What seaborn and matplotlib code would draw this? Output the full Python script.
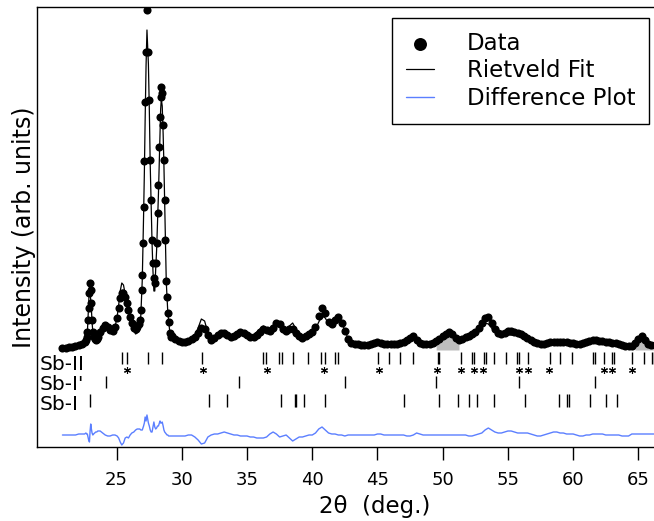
import numpy as np
import matplotlib
matplotlib.use('Agg')
import matplotlib.pyplot as plt
import seaborn as sns

# 2-theta scan positions (deg), observed counts and obs - calc difference (arb. units)
two_theta = [
    20.85, 21.10, 21.35, 21.60, 21.85, 22.10, 22.35, 22.55,
    22.65, 22.71, 22.76, 22.81, 22.86, 22.92, 22.97, 23.02, 23.07, 23.12,
    23.18, 23.24, 23.32, 23.40, 23.48,
    23.56, 23.74, 23.94, 24.13, 24.32, 24.50, 24.70, 24.88,
    25.04, 25.16, 25.28, 25.40, 25.53, 25.66, 25.79, 25.91, 26.04, 26.17,
    26.32, 26.46, 26.58,
    26.70, 26.78, 26.86, 26.92, 26.97, 27.02, 27.07, 27.13, 27.19, 27.26,
    27.33, 27.44, 27.51, 27.58, 27.65, 27.72, 27.79, 27.86, 27.93, 28.00,
    28.07, 28.14, 28.21, 28.28, 28.33, 28.38, 28.43, 28.50, 28.57, 28.63,
    28.69, 28.75, 28.81, 28.87, 28.93, 28.99, 29.08, 29.17,
    29.25, 29.50, 29.75, 30.00, 30.25, 30.50, 30.75, 31.00, 31.25, 31.50,
    31.75, 32.00, 32.25, 32.50, 32.75, 33.00, 33.25, 33.50, 33.75, 34.00,
    34.25, 34.50, 34.75, 35.00, 35.25, 35.50, 35.75, 36.00, 36.25, 36.50,
    36.75, 37.00, 37.25, 37.50, 37.75, 38.00, 38.25, 38.50, 38.75, 39.00,
    39.25, 39.50, 39.75, 40.00, 40.25, 40.50, 40.75, 41.00, 41.25, 41.50,
    41.75, 42.00, 42.25, 42.50, 42.75, 43.00, 43.25, 43.50, 43.75, 44.00,
    44.25, 44.50, 44.75, 45.00, 45.25, 45.50, 45.75, 46.00, 46.25, 46.50,
    46.75, 47.00, 47.25, 47.50, 47.75, 48.00, 48.25, 48.50, 48.75, 49.00,
    49.25, 49.50, 49.75, 50.00, 50.25, 50.50, 50.75, 51.00, 51.25, 51.50,
    51.75, 52.00, 52.25, 52.50, 52.75, 53.00, 53.25, 53.50, 53.75, 54.00,
    54.25, 54.50, 54.75, 55.00, 55.25, 55.50, 55.75, 56.00, 56.25, 56.50,
    56.75, 57.00, 57.25, 57.50, 57.75, 58.00, 58.25, 58.50, 58.75, 59.00,
    59.25, 59.50, 59.75, 60.00, 60.25, 60.50, 60.75, 61.00, 61.25, 61.50,
    61.75, 62.00, 62.25, 62.50, 62.75, 63.00, 63.25, 63.50, 63.75, 64.00,
    64.25, 64.50, 64.75, 65.00, 65.25, 65.50, 65.75, 66.00, 66.25,
]
obs = [
    103, 103, 104, 104, 105, 106, 107, 109,
    111, 114, 119, 131, 143, 158, 168, 161, 148, 131,
    119, 114, 112, 111, 112,
    114, 119, 123, 126, 124, 121, 120, 124,
    133, 143, 153, 158, 158, 154, 148, 141, 134, 128,
    123, 122, 124,
    127, 131, 141, 161, 176, 208, 244, 290, 349, 399,
    441, 399, 351, 291, 251, 211, 188, 173, 168, 188,
    208, 238, 266, 304, 334, 354, 364, 358, 326, 291,
    251, 211, 170, 154, 138, 129, 118, 114,
    115, 112, 110, 109, 109, 110, 112, 114, 118, 123,
    122, 116, 111, 113, 116, 118, 118, 116, 114, 115,
    117, 119, 118, 116, 114, 114, 116, 119, 122, 121,
    120, 123, 128, 127, 122, 120, 122, 122, 118, 115,
    113, 115, 117, 119, 124, 135, 143, 138, 129, 127,
    131, 134, 128, 120, 112, 108, 107, 107, 106, 106,
    106, 107, 108, 109, 108, 107, 107, 107, 107, 107,
    108, 109, 111, 113, 115, 111, 108, 107, 107, 107,
    108, 110, 112, 115, 117, 119, 117, 113, 111, 112,
    114, 115, 117, 119, 123, 128, 133, 134, 128, 122,
    118, 117, 118, 120, 120, 119, 118, 117, 115, 113,
    111, 109, 108, 107, 107, 108, 109, 109, 109, 109,
    109, 109, 108, 108, 107, 107, 108, 109, 110, 111,
    111, 110, 110, 109, 109, 108, 108, 107, 106, 105,
    105, 105, 108, 112, 115, 111, 107, 106, 106,
]
diff = [
    0, 0, 0, 0, 0, 1, 1, 1,
    2, 1, 1, -2, -5, -7, 4, 11, 6, 2,
    0, 1, 2, 3, 3,
    4, 4, 2, 0, -1, -1, 0, 0,
    -1, -3, -7, -10, -8, -3, -2, -3, 0, 2,
    3, 5, 6,
    6, 6, 5, 5, 5, 7, 9, 12, 18, 14,
    20, 12, 9, 5, 3, 3, 8, 13, 8, 6,
    7, 9, 9, 12, 14, 12, 12, 13, 9, 5,
    3, 2, 1, 0, 0, -1, -1, -1,
    -1, -1, -1, -1, -1, 0, 0, -2, -5, -9,
    -8, -2, 0, 1, 1, 2, 3, 2, 1, 0,
    0, -1, -1, -1, -2, -2, -3, -3, -3, -2,
    1, 3, 1, -2, -1, 0, -3, -6, -4, -2,
    -2, -1, 0, 0, 2, 6, 8, 5, 2, 1,
    1, 0, 0, -1, 0, 0, 0, 0, 0, 0,
    0, 0, 0, 1, 1, 0, 0, 0, 0, 0,
    0, 0, -1, -1, 0, 2, 1, 0, 0, 0,
    0, 0, 0, 0, 0, 0, 0, 0, 0, 0,
    0, -1, -1, 0, 1, 2, 5, 7, 5, 3,
    2, 2, 3, 4, 4, 3, 2, 2, 2, 2,
    1, 0, -1, -1, 0, 1, 2, 3, 3, 2,
    2, 1, 1, 1, 0, -1, -1, 0, 0, 1,
    1, 1, 1, 0, 0, 0, 0, 0, -1, -1,
    -1, 1, 1, 1, 1, 1, 1, 1, 1,
]

# reflection positions (deg)
sb2_ticks = [25.44, 25.82, 27.40, 28.50, 31.58, 36.24, 36.45, 37.48, 37.69, 38.54,
             39.71, 40.70, 40.95, 41.76, 41.98, 45.06, 45.85, 46.72, 47.72, 49.62,
             49.74, 51.40, 52.25, 52.42, 53.18, 53.31, 53.97, 54.86, 55.66, 55.84,
             56.56, 58.22, 58.98, 59.92, 61.50, 61.70, 62.34, 62.98, 63.11, 64.53,
             65.41, 66.05, 66.17]
asterisks = [25.80, 31.60, 36.50, 40.90, 45.08, 49.56, 51.40, 52.37, 53.09, 55.82,
             56.51, 58.18, 62.34, 62.98, 64.52]
sb1p_ticks = [24.20, 34.40, 42.50, 49.51, 55.82, 61.70]
sb1_ticks = [23.00, 32.08, 33.46, 37.60, 38.65, 38.78, 39.36, 41.00, 47.00, 49.74,
             51.17, 52.02, 52.60, 53.90, 56.28, 58.94, 59.53, 59.71, 61.27, 62.55,
             63.37]
phase_names = ["Sb-II", "Sb-I'", "Sb-I"]

# unfitted (shaded) regions
shaded = [(49.45, 51.35), (64.6, 66.25)]

tt = np.array(two_theta)
obs = np.array(obs, dtype=float)
diff = np.array(diff, dtype=float)
calc = obs - diff

sns.set_style('ticks')
plt.rcParams['font.family'] = ['DejaVu Sans']
plt.rcParams['text.color'] = 'black'
plt.rcParams['axes.labelcolor'] = 'black'
plt.rcParams['xtick.color'] = 'black'

fig = plt.figure(figsize=(6.54, 5.21), dpi=100)
ax = fig.add_axes([37 / 654, 1 - 447 / 521, 617 / 654, 440 / 521])

for lo, hi in shaded:
    mask = (tt >= lo) & (tt <= hi)
    ax.fill_between(tt, 101, obs, where=mask, color='#bdbdbd', lw=0, zorder=1)

sns.scatterplot(x=tt, y=obs, ax=ax, color='black', s=34, linewidth=0,
                label='Data', zorder=3)
sns.lineplot(x=tt, y=calc, ax=ax, color='black', lw=0.9, sort=False,
             estimator=None, label='Rietveld Fit', zorder=4)
sns.lineplot(x=tt, y=16 + diff, ax=ax, color='#5b7fff', lw=1.0, sort=False,
             estimator=None, label='Difference Plot', zorder=2)

# reflection markers
ax.vlines(sb2_ticks, 87, 99.5, color='black', lw=1)
ax.plot(asterisks, [81] * len(asterisks), ls='none', marker=(6, 2, 0),
        ms=5, mew=0.8, color='black')
ax.vlines(sb1p_ticks, 63, 75, color='black', lw=1)
ax.vlines(sb1_ticks, 44.5, 57, color='black', lw=1)
for name, yb in zip(phase_names, [81, 61, 41]):
    ax.text(0.005, yb, name, transform=ax.get_yaxis_transform(), fontsize=14.5,
            ha='left', va='baseline', color='black')

ax.set_xlim(18.9, 66.2)
ax.set_ylim(4, 444)
ax.set_xticks([25, 30, 35, 40, 45, 50, 55, 60, 65])
ax.set_yticks([])
ax.tick_params(axis='x', direction='out', length=9, width=1, pad=8,
               labelsize=13, colors='black')
for side in ['left', 'top', 'bottom']:
    ax.spines[side].set_color('black')
    ax.spines[side].set_linewidth(1)
ax.spines['right'].set_visible(False)

ax.set_ylabel('Intensity (arb. units)', fontsize=17, labelpad=1)
ax.set_xlabel('2θ  (deg.)', fontsize=16.5)
ax.xaxis.set_label_coords(0.548, -0.11)

handles, labels = ax.get_legend_handles_labels()
order = [labels.index(l) for l in ['Data', 'Rietveld Fit', 'Difference Plot']]
leg = ax.legend([handles[i] for i in order], [labels[i] for i in order],
                loc='upper right', bbox_to_anchor=(0.992, 0.975), borderaxespad=0,
                frameon=True, fancybox=False, edgecolor='black', framealpha=1,
                fontsize=16.5, markerscale=1.6, handlelength=1.2,
                handletextpad=1.45, labelspacing=0.2, borderpad=0.6)
leg.get_frame().set_linewidth(1.0)

fig.savefig('out.png', dpi=100)
